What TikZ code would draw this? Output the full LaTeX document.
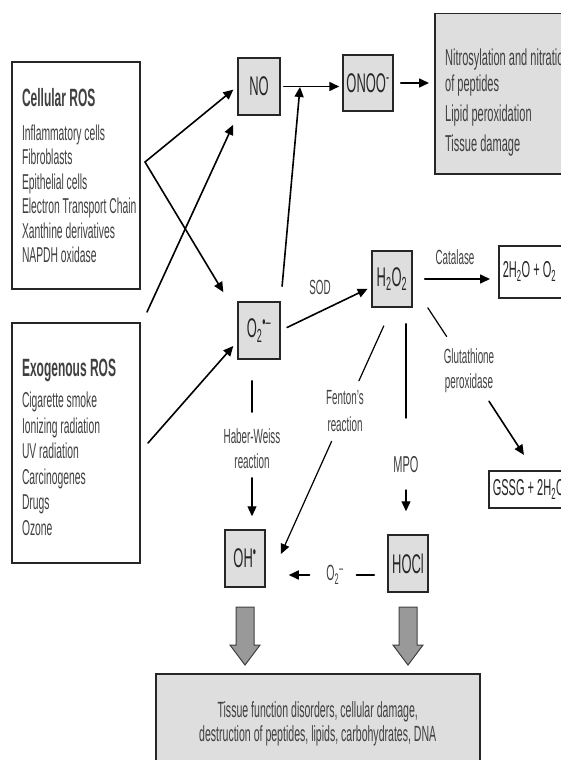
\documentclass[tikz,border=0pt]{standalone}
\usepackage{fontspec}
\setmainfont{Liberation Sans}[FakeStretch=0.48]
\usepackage{tikz}
\usetikzlibrary{arrows.meta}

\begin{document}
\begin{tikzpicture}[x=1pt,y=-1pt,line width=1.6pt,line cap=round,
  >={Triangle[length=10pt,width=9pt]},
  box/.style={draw=black!85,line width=1.5pt,text=black!85},
  species/.style={box,fill=black!13,minimum width=40pt,minimum height=56pt,inner sep=0pt,font=\fontsize{27}{30}\selectfont},
  source/.style={box,fill=white,text width=108pt,inner xsep=10pt,minimum height=#1,align=flush left,text=black!75},
  result/.style={box,fill=white,anchor=north west,text width=82pt,align=flush left,inner xsep=4pt,inner ysep=0pt,font=\fontsize{23}{28}\selectfont},
  enzyme/.style={text=black!75,inner sep=2pt,align=center,font=\fontsize{20.5}{25}\selectfont},
  bigarrow/.style={fill=black!40,draw=black!75,line width=1pt}]
\useasboundingbox (0,0) rectangle (561,760);
\clip (0,0) rectangle (561,760);

\path % we place the nodes once
  node[source=227pt,font=\fontsize{21.5}{24.5}\selectfont] (1) at (76,175.5)
     {{\fontsize{25}{28}\selectfont\bfseries Cellular ROS}\\[9.5pt]
      Inflammatory cells\\ Fibroblasts\\ Epithelial cells\\ \mbox{Electron Transport Chain}\\ Xanthine derivatives\\ NAPDH oxidase}
  node[source=240pt,font=\fontsize{21.5}{25.5}\selectfont] (2) at (76,443)
     {{\fontsize{25}{28}\selectfont\bfseries\rule{0pt}{26pt}Exogenous ROS}\\[5.5pt]
      Cigarette smoke\\ Ionizing radiation\\ UV radiation\\ Carcinogenes\\ Drugs\\ Ozone}
  node[species,minimum width=42pt,minimum height=57pt] (3) at (259,86.5) {NO}
  node[species,minimum width=50pt] (4) at (368,83) {ONOO\textsuperscript{-}}
  node[box,fill=black!13,anchor=north west,minimum width=141pt,minimum height=160pt] (5) at (434,13) {}
  node[anchor=north west,align=left,text=black!75,font=\fontsize{23}{30}\selectfont] (6) at (441,45)
     {Nitrosylation and nitration\\[-4pt] of peptides\\ Lipid peroxidation\\ Tissue damage}
  node[species,minimum width=42pt,minimum height=57pt] (7) at (259,330.5) {O\textsubscript{2}\textsuperscript{•–}}
  node[species] (8) at (392,279) {H\textsubscript{2}O\textsubscript{2}}
  node[result,minimum height=52pt] (9) at (498,245) {2H\textsubscript{2}O + O\textsubscript{2}}
  node[result,minimum height=37pt] (10) at (488,470) {GSSG + 2H\textsubscript{2}O}
  node[species,minimum height=57pt] (11) at (245,558.5) {OH\textsuperscript{•}}
  node[species,minimum height=57pt] (12) at (408,563.5) {HOCl}
  node[box,fill=black!13,anchor=north west,minimum width=324pt,minimum height=100pt,align=center,text=black!75,font=\fontsize{22}{24}\selectfont] (13) at (155,673)
     {Tissue function disorders, cellular damage,\\ destruction of peptides, lipids, carbohydrates, DNA}
  node[enzyme] (14) at (320,287) {SOD}
  node[enzyme] (15) at (455,257) {Catalase}
  node[enzyme] (16) at (469,370.5) {Glutathione\\ peroxidase}
  node[enzyme,font=\fontsize{20.5}{27}\selectfont] (17) at (345,411.5) {Fenton's\\ reaction}
  node[enzyme] (18) at (252,449) {Haber-Weiss\\ reaction}
  node[enzyme,font=\fontsize{23}{24}\selectfont] (19) at (406,465) {MPO}
  node[enzyme,font=\fontsize{22}{24}\selectfont] (20) at (335,575) {O\textsubscript{2}\textsuperscript{–}};

\coordinate (x1) at (145,162);
\coordinate (x2) at (147,312);
\coordinate (x3) at (148,443);
\coordinate (x4) at (300,87);

\draw[->,shorten >=5pt] (x1) -- (3.west);
\draw[->,shorten >=27pt] (x1) -- ([yshift=-14pt]7.north west);
\draw[->,shorten >=10pt] (x2) -- (3.south west);
\draw[->,shorten >=6pt] (x3) -- ([yshift=-11pt]7.west);
\draw[->,shorten <=15pt] (7.north east) -- (x4);
\draw[->,shorten <=3pt,shorten >=3pt] (3.east) -- (3.east -| 4.west);
\draw[->,shorten <=7pt,shorten >=5pt] (4.east) -- (4.east -| 5.west);
\draw[->,shorten <=7pt,shorten >=4pt] (7.east) -- ([yshift=-8pt]8.west);
\draw[->,shorten <=12pt,shorten >=8pt] (8.east) -- (8.east -| 9.west);

% reactions starting at H2O2 and O2
\draw[line width=1.2pt,shorten >=11pt] ([xshift=15pt]8.south east) -- (16);
\draw[->,shorten <=7pt,shorten >=18pt] (16) -- (10.north);
\draw[line width=1.2pt,shorten <=20pt,shorten >=8pt] (8.south) -- (17);
\draw[->,line width=1.2pt,shorten <=7pt,shorten >=37pt] (17) -- (11.south east);
\draw[line width=1.2pt,shorten <=21pt,shorten >=14pt] (7.south -| 18) -- (18);
\draw[->,line width=1.2pt,shorten <=6pt,shorten >=13pt] (18) -- (18 |- 11.north);
\draw[line width=1.2pt,shorten <=16pt,shorten >=36pt] (8.south -| 19) -- (19);
\draw[->,line width=1.2pt,shorten <=14pt,shorten >=23pt] (19) -- (19 |- 12.north);
\draw[shorten <=10pt,shorten >=13pt] (20) -- (20 -| 12.west);
\draw[->,shorten <=14pt,shorten >=23pt] (20) -- (20 -| 11.east);

\foreach \n in {11,12}
  \filldraw[bigarrow] (\n.south |- 13.north) ++(0,-8) -- ++(-15,-20) -- ++(6,0) -- ++(0,-38)
     -- ++(18,0) -- ++(0,38) -- ++(6,0) -- cycle;
\end{tikzpicture}
\end{document}
